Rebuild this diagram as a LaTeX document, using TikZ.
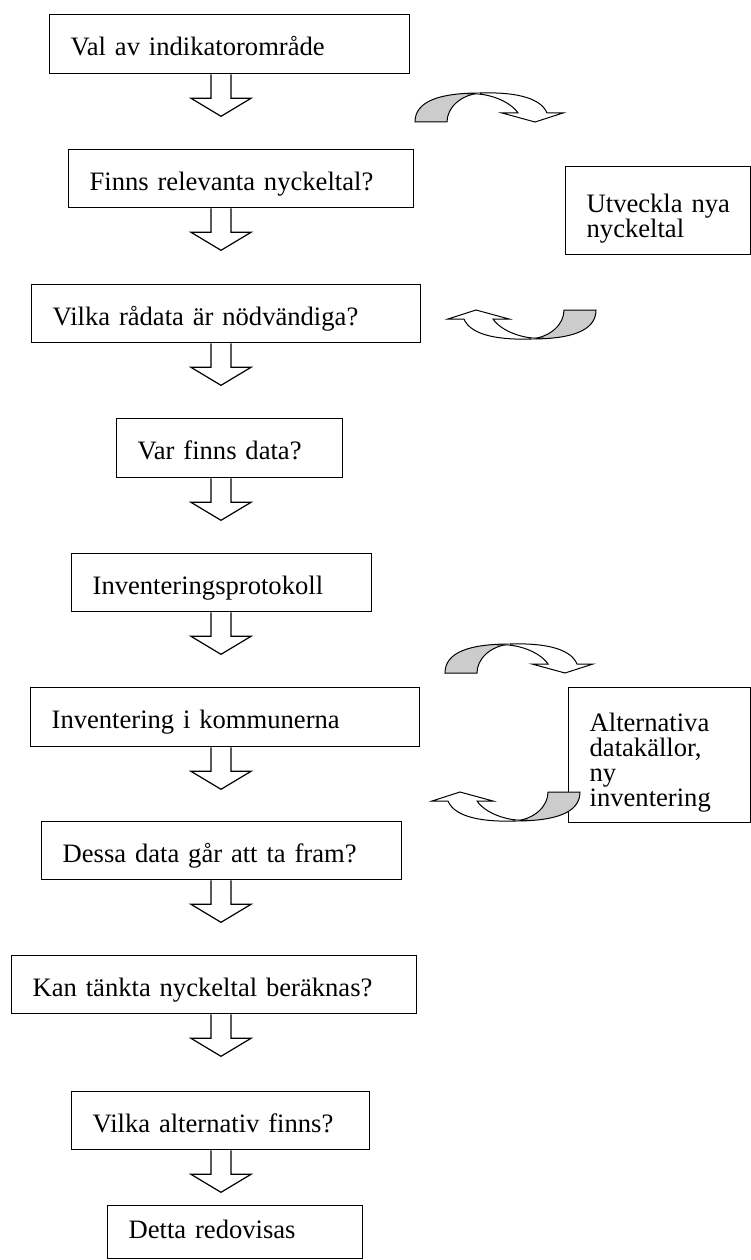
\documentclass[tikz,border=0pt]{standalone}
\usepackage{fontspec}
\setmainfont{Liberation Serif}
\definecolor{rib}{RGB}{204,204,204}
\tikzset{
  bx/.style={draw, line width=1.3pt, rectangle, anchor=north west, inner xsep=21pt, inner ysep=0pt,
    align=left, font=\fontsize{26.6pt}{25pt}\selectfont, text height=23pt, text depth=0pt},
  blockarr/.pic={
    \draw[line width=1.2pt, line join=miter] (-10,0) -- (-10,24) -- (-30,24) -- (0,42) -- (30,24) -- (10,24) -- (10,0);
  },
  curvarr/.pic={
    \filldraw[fill=rib, line width=1pt] (0,29) .. controls (0,8) and (25,0) .. (65,0) .. controls (45,2) and (32,15) .. (32,29) -- cycle;
    \filldraw[fill=white, line width=1pt, line join=miter] (52,1) .. controls (72,-1) and (95,8) .. (103,20) -- (87,20) -- (120,29) -- (148,20) -- (132,20) .. controls (125,3) and (95,-1) .. (65,0);
  }
}
\begin{document}
\begin{tikzpicture}[x=1pt,y=-1pt]
\useasboundingbox (0,0) rectangle (751,1260);
\coordinate (ax) at (221,0);
\node[bx, text width=318pt, minimum height=59pt] (b1) at (49,14) {Val av indikatorområde};
\node[bx, text width=303pt, minimum height=58pt] (b2) at (68,149) {Finns relevanta nyckeltal?};
\node[bx, text width=347pt, minimum height=58pt] (b3) at (31,284) {Vilka rådata är nödvändiga?};
\node[bx, text width=184pt, minimum height=59pt] (b4) at (116,418) {Var finns data?};
\node[bx, text width=258pt, minimum height=58pt] (b5) at (71,553) {Inventeringsprotokoll};
\node[bx, text width=347pt, minimum height=59pt] (b6) at (30,687) {Inventering i kommunerna};
\node[bx, text width=318pt, minimum height=58pt] (b7) at (41,821) {Dessa data går att ta fram?};
\node[bx, text width=363pt, minimum height=58pt] (b8) at (11,955) {Kan tänkta nyckeltal beräknas?};
\node[bx, text width=256pt, minimum height=58pt] (b9) at (71,1091) {Vilka alternativ finns?};
\node[bx, text width=213pt, minimum height=53pt, text height=12pt] (b10) at (107,1205) {Detta redovisas};
\node[bx, text width=143pt, minimum height=88pt, text height=18pt, text depth=14.6pt] (u) at (565,166) {Utveckla~nya\\nyckeltal};
\node[bx, text width=140pt, minimum height=135pt, text height=18pt, text depth=65pt] (alt) at (568,687) {Alternativa\\datakällor,\\ny\\inventering};
\foreach \b in {b1,b2,b3,b4,b5,b6,b7,b8,b9}{
  \pic at (\b.south -| ax) {blockarr};
}
\pic at (415,93) {curvarr};
\pic[rotate=180] at (596,339) {curvarr};
\pic at (445,644) {curvarr};
\pic[rotate=180] at (580,821) {curvarr};
\end{tikzpicture}
\end{document}
